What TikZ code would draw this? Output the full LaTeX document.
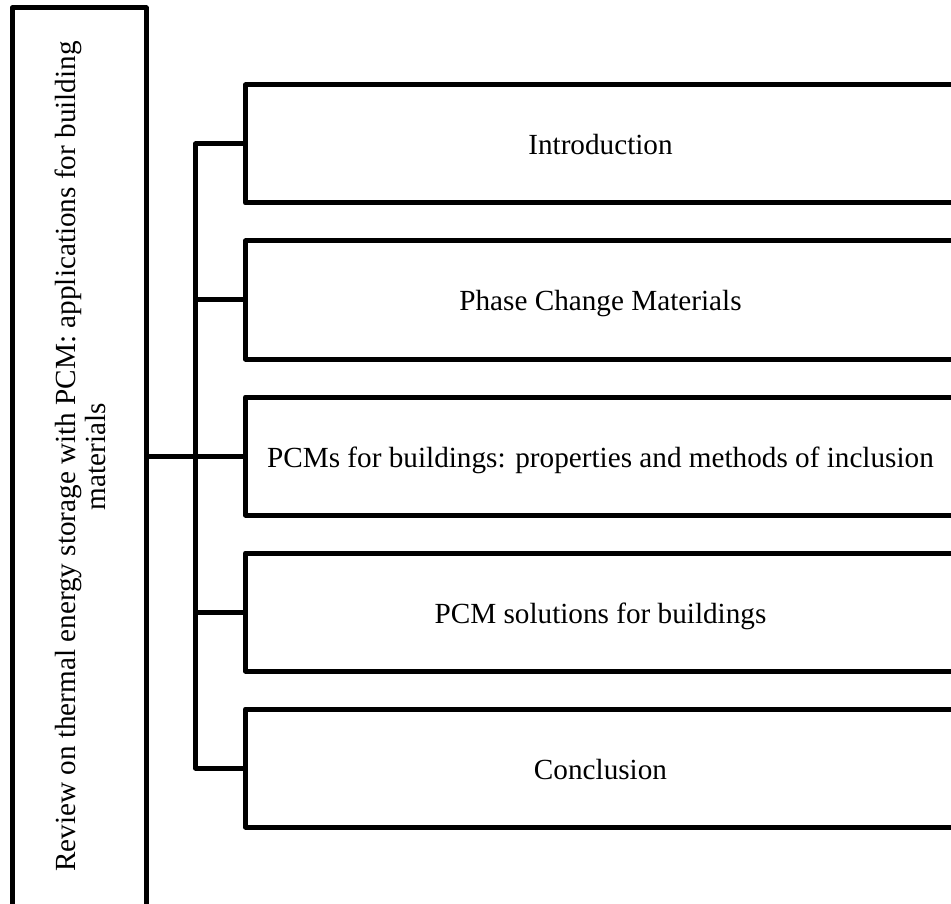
\documentclass[tikz,border=0pt]{standalone}
\usepackage{fontspec}
\setmainfont{Liberation Serif}
\begin{document}
\begin{tikzpicture}[x=1pt,y=-1pt,
  line join=round,
  frame/.style={draw=black,line width=5pt},
  link/.style={draw=black,line width=5pt},
  label/.style={font=\fontsize{29.2}{30}\selectfont,align=center,inner sep=0pt}]
\useasboundingbox (0,0) rectangle (951,904);
% title box on the left, running past the lower edge
\draw[frame] (12,8) rectangle (146,930);
\node[label,rotate=90] (title) at (80,456.5)
  {Review on thermal energy storage with PCM: applications for building\\materials};
% section boxes, running past the right edge
\foreach \n/\yc/\t in {1/144/Introduction,2/300/Phase Change Materials,
  3/456/PCMs for buildings: properties and methods of inclusion,
  4/612/PCM solutions for buildings,5/768/Conclusion}{
  \draw[frame] (980,\yc-59) -- (245.5,\yc-59) -- (245.5,\yc+59) -- (980,\yc+59);
  \coordinate (b\n) at (245.5,\yc);
  \node[label,anchor=base] (s\n) at (600.5,\yc+11) {\t};
}
% tree connectors
\coordinate (root) at (146,456);
\coordinate (ttop) at (195.5,144);
\coordinate (tbot) at (195.5,768);
\draw[link] (b1) -- (ttop) -- (tbot) -- (b5);
\foreach \n in {2,3,4}{\draw[link] (195.5,0|-b\n) -- (b\n);}
\draw[link] (root) -- (195.5,456);
\end{tikzpicture}
\end{document}
